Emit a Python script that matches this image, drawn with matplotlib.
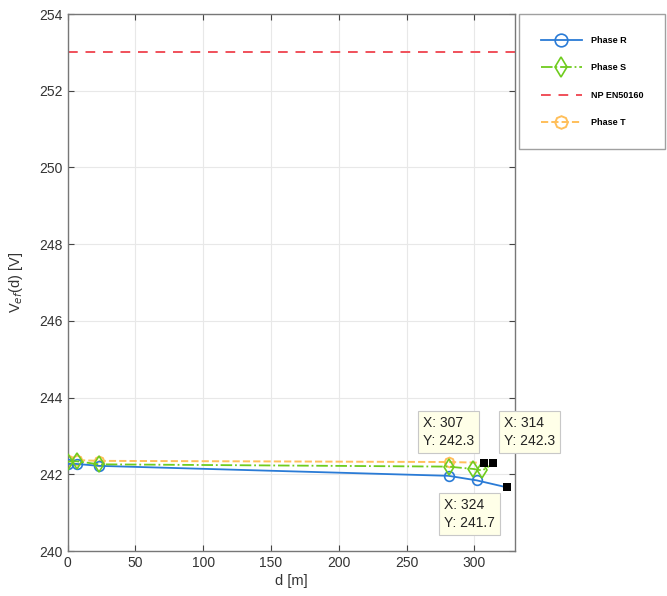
import matplotlib
matplotlib.use("Agg")
import matplotlib.pyplot as plt

# Data -----

d_r = [0, 6.5, 23, 281, 302, 324]
v_r = [242.27, 242.27, 242.22, 241.96, 241.84, 241.66]

d_s = [0, 6.5, 23, 281, 299, 306, 314]
v_s = [242.33, 242.34, 242.26, 242.2, 242.14, 242.1, 242.28]

d_t = [0, 6.5, 23, 281, 307]
v_t = [242.36, 242.37, 242.35, 242.32, 242.3]

limit_v = 253.0

# datatips: (x, y, label)
tip_x = [307, 314, 324]
tip_y = [242.3, 242.3, 241.66]
tip_text = ["X: 307\nY: 242.3", "X: 314\nY: 242.3", "X: 324\nY: 241.7"]
tip_offset = [(-44, 22), (8, 22), (-45, -19)]

# Plot -----

plt.rcParams["font.family"] = ["Liberation Sans", "DejaVu Sans"]

fig = plt.figure(figsize=(6.67, 5.96), dpi=100)
ax = fig.add_axes([0.1015, 0.0755, 0.6705, 0.901])

blue = "#2a7bd6"
green = "#6fcc1e"
red = "#f0505a"
orange = "#ffbf5a"

# last point of each line sits under a datatip, so no marker there
ax.plot(d_r, v_r, "-", color=blue, lw=1.3, marker="o", ms=7,
        markevery=list(range(len(d_r) - 1)),
        mfc="none", mec=blue, mew=1.2, label="Phase R", zorder=3)
ax.plot(d_s, v_s, "-.", color=green, lw=1.3, marker="d", ms=8,
        markevery=list(range(len(d_s) - 1)),
        mfc="none", mec=green, mew=1.2, label="Phase S", zorder=3)
ax.axhline(limit_v, color=red, ls=(0, (5, 4)), lw=1.4, label="NP EN50160")
ax.plot(d_t, v_t, "--", color=orange, lw=1.4, marker=(8, 0, 0), ms=7,
        markevery=list(range(len(d_t) - 1)),
        mfc="none", mec=orange, mew=1.4, label="Phase T", zorder=2)

# datatips
for x, y, txt, off in zip(tip_x, tip_y, tip_text, tip_offset):
    ax.plot(x, y, "s", color="black", ms=6.2, mew=0, zorder=5, clip_on=False)
    ax.annotate(txt, (x, y), xytext=off, textcoords="offset points",
                ha="left", va="center", fontsize=10, color="#222222",
                linespacing=1.35, annotation_clip=False, zorder=6,
                bbox=dict(boxstyle="square,pad=0.35", fc="#ffffe8",
                          ec="#c8c8c8", lw=0.8))

ax.set_xlim(0, 330)
ax.set_ylim(240, 254)
ax.set_xticks(range(0, 301, 50))
ax.set_yticks(range(240, 255, 2))
ax.grid(True, color="#e8e8e8", lw=0.8)
ax.set_axisbelow(True)
ax.tick_params(direction="in", top=True, right=True, length=4,
               colors="#444444", labelsize=10, labelcolor="#333333")
for s in ax.spines.values():
    s.set_color("#777777")
    s.set_linewidth(1.0)

ax.set_xlabel("d [m]", fontsize=10.5, color="#333333", labelpad=3)
ax.set_ylabel(r"V$_{ef}$(d) [V]", fontsize=10.5, color="#333333", labelpad=10)

leg = ax.legend(loc="upper left", bbox_to_anchor=(519 / 667, 1 - 14 / 596),
                bbox_transform=fig.transFigure, borderaxespad=0,
                handlelength=4.6, handletextpad=1.0, markerscale=1.3,
                labelspacing=2.05, borderpad=2.4, fancybox=False,
                edgecolor="#888888", prop={"weight": "bold", "size": 6.5})
leg.get_frame().set_linewidth(1.0)

fig.savefig("out.png", dpi=100)
